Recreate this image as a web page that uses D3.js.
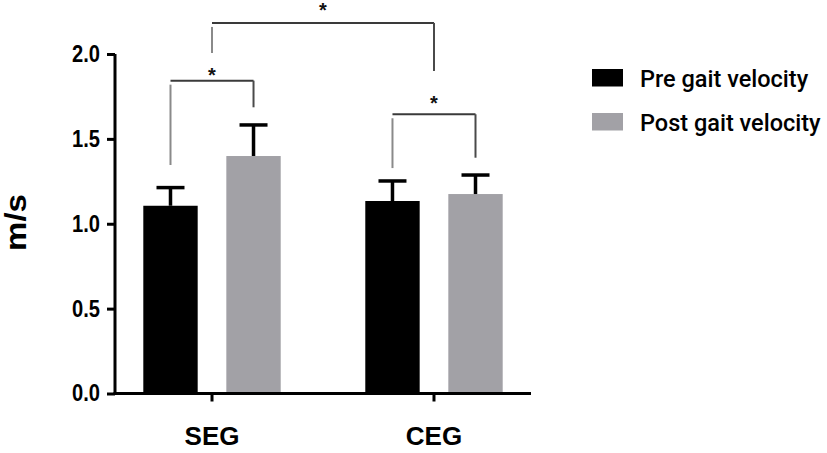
<!DOCTYPE html>
<html><head><meta charset="utf-8">
<script src="https://cdn.jsdelivr.net/npm/d3@7"></script>
<style>body{margin:0;background:#fff}svg{display:block}</style>
</head><body>
<svg id="chart" width="827" height="453"></svg>
<script>
const categories = ["SEG", "CEG"];
const seriesNames = ["Pre gait velocity", "Post gait velocity"];
const preValues = [1.106, 1.134];
const postValues = [1.399, 1.175];
const preErrors = [0.107, 0.118];
const postErrors = [0.183, 0.112];
const yTicks = [0.0, 0.5, 1.0, 1.5, 2.0];
const yLabel = "m/s";
// significance brackets: [fromCategory, fromSeries, toCategory, toSeries, level, leftLegEnd, rightLegEnd, starLevel]
const brackets = [
  {from: ["SEG", 0], to: ["SEG", 1], level: 1.843, leftEnd: 1.346, rightEnd: 1.686, star: 1.902, label: "*"},
  {from: ["SEG", null], to: ["CEG", null], level: 2.183, leftEnd: 2.006, rightEnd: 1.90, star: 2.28, label: "*"},
  {from: ["CEG", 0], to: ["CEG", 1], level: 1.645, leftEnd: 1.328, rightEnd: 1.389, star: 1.735, label: "*"}
];
const colors = ["#000000", "#a2a1a6"];

const svg = d3.select("#chart");
const x0 = d3.scaleBand().domain(categories).range([115, 531]).paddingInner(0.381).paddingOuter(0.1275);
const x1 = d3.scaleBand().domain([0, 1]).range([0, x0.bandwidth()]).paddingInner(0.345).paddingOuter(0);
const y = d3.scaleLinear().domain([0, 2]).range([393.5, 54]);

const data = categories.map((c, i) => ({cat: c, vals: [
  {s: 0, v: preValues[i], e: preErrors[i]},
  {s: 1, v: postValues[i], e: postErrors[i]}
]}));

// bars
const g = svg.append("g");
const groups = g.selectAll("g.grp").data(data).join("g").attr("transform", d => `translate(${x0(d.cat)},0)`);
groups.selectAll("rect").data(d => d.vals).join("rect")
  .attr("x", d => x1(d.s)).attr("width", x1.bandwidth())
  .attr("y", d => y(d.v)).attr("height", d => y(0) - y(d.v))
  .attr("fill", d => colors[d.s]);
// error bars
groups.selectAll("line.err").data(d => d.vals).join("line").attr("class", "err")
  .attr("x1", d => x1(d.s) + x1.bandwidth() / 2).attr("x2", d => x1(d.s) + x1.bandwidth() / 2)
  .attr("y1", d => y(d.v)).attr("y2", d => y(d.v + d.e))
  .attr("stroke", "#000").attr("stroke-width", 3.5);
groups.selectAll("line.cap").data(d => d.vals).join("line").attr("class", "cap")
  .attr("x1", d => x1(d.s) + x1.bandwidth() / 2 - 14).attr("x2", d => x1(d.s) + x1.bandwidth() / 2 + 14)
  .attr("y1", d => y(d.v + d.e)).attr("y2", d => y(d.v + d.e))
  .attr("stroke", "#000").attr("stroke-width", 3.5);

// axes
const yAxis = svg.append("g").attr("transform", "translate(115,0)")
  .call(d3.axisLeft(y).tickValues(yTicks).tickFormat(d3.format(".1f")).tickSize(8).tickSizeOuter(0).tickPadding(7));
const xAxis = svg.append("g").attr("transform", "translate(0,393.5)")
  .call(d3.axisBottom(x0).tickSize(8).tickSizeOuter(0).tickPadding(25));
[yAxis, xAxis].forEach(a => {
  a.select(".domain").attr("stroke", "#000").attr("stroke-width", 3);
  a.selectAll(".tick line").attr("stroke", "#000").attr("stroke-width", 3);
  a.selectAll("text").attr("fill", "#000").attr("font-family", "Liberation Sans, Arial, sans-serif").attr("font-weight", "bold");
});
yAxis.selectAll("text").attr("font-size", 23).attr("textLength", 28).attr("lengthAdjust", "spacingAndGlyphs");
xAxis.selectAll("text").attr("font-size", 26);
xAxis.select(".domain").attr("d", `M${x0.range()[0] - 1.5},0H${x0.range()[1]}`);
yAxis.select(".domain").attr("d", `M0,${y(2)}V${y(0) + 1.5}`);

// y title
svg.append("text").attr("transform", `translate(26,222.5) rotate(-90)`)
  .attr("text-anchor", "middle").attr("font-family", "Liberation Sans, Arial, sans-serif")
  .attr("font-weight", "bold").attr("font-size", 30).attr("fill", "#000")
  .attr("textLength", 57).attr("lengthAdjust", "spacingAndGlyphs").text(yLabel);

// brackets
const bx = ([c, s]) => s === null ? x0(c) + x0.bandwidth() / 2 : x0(c) + x1(s) + x1.bandwidth() / 2;
const bg = svg.append("g").attr("fill", "none");
brackets.forEach(b => {
  const xa = bx(b.from), xb = bx(b.to);
  bg.append("line").attr("x1", xa).attr("x2", xb).attr("y1", y(b.level)).attr("y2", y(b.level))
    .attr("stroke", "#3a3a3a").attr("stroke-width", 2);
  bg.append("line").attr("x1", xa).attr("x2", xa).attr("y1", y(b.level) + 4).attr("y2", y(b.leftEnd))
    .attr("stroke", "#8a8a8a").attr("stroke-width", 2);
  bg.append("line").attr("x1", xb).attr("x2", xb).attr("y1", y(b.level)).attr("y2", y(b.rightEnd))
    .attr("stroke", "#4a4a4a").attr("stroke-width", 2);
  svg.append("text").attr("x", (xa + xb) / 2).attr("y", y(b.star) + 11)
    .attr("text-anchor", "middle").attr("font-family", "Liberation Sans, Arial, sans-serif")
    .attr("font-weight", "bold").attr("font-size", 20).attr("fill", "#111").text(b.label);
});

// legend
const lg = svg.append("g").attr("transform", "translate(592,69)");
seriesNames.forEach((n, i) => {
  lg.append("rect").attr("x", 0).attr("y", i * 44).attr("width", 31).attr("height", 17.5).attr("fill", colors[i]);
  lg.append("text").attr("x", 48).attr("y", i * 44 + 17.5).attr("font-family", "Roboto, sans-serif")
    .attr("font-weight", 500).attr("font-size", 23.5).attr("fill", "#000").text(n);
});
</script>
</body></html>
